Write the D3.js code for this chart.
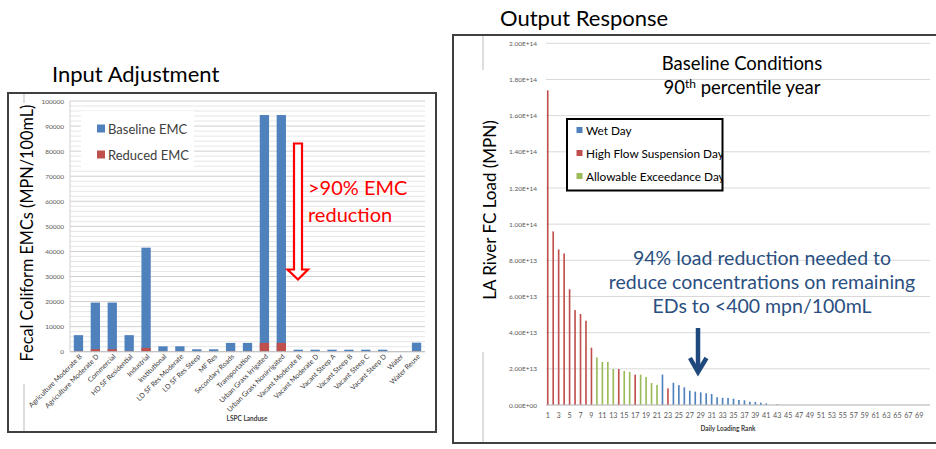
<!DOCTYPE html>
<html><head><meta charset="utf-8">
<script src="https://cdn.jsdelivr.net/npm/d3@7"></script>
<style>
html,body{margin:0;padding:0;background:#fff;}
svg{display:block;font-family:Lato,"Open Sans",sans-serif;}
</style></head>
<body>
<svg id="chart" width="936" height="449"></svg>
<script>
// ---------- Left chart data ----------
const landuses = ["Agriculture Moderate B","Agriculture Moderate D","Commercial","HD SF Residential","Industrial","Institutional","LD SF Res Moderate","LD SF Res Steep","MF Res","Secondary Roads","Transportation","Urban Grass Irrigated","Urban Grass Nonirrigated","Vacant Moderate B","Vacant Moderate D","Vacant Steep A","Vacant Steep B","Vacant Steep C","Vacant Steep D","Water","Water Reuse"];
const baselineEMC = [6600,19600,19600,6600,41500,2150,2150,960,960,3500,3500,94400,94400,800,800,800,800,800,800,0,3600];
const reducedEMC  = [300,1000,1000,300,1500,150,150,80,80,250,250,3500,3500,60,60,60,60,60,60,0,250];
const emcTicks = [0,10000,20000,30000,40000,50000,60000,70000,80000,90000,100000];

// ---------- Right chart data ----------
const ranks = d3.range(1,70);
const loads = [1.74e14,9.6e13,8.6e13,8.38e13,6.4e13,5.25e13,5.03e13,4.66e13,3.17e13,2.63e13,
  2.38e13,2.38e13,1.99e13,1.99e13,1.88e13,1.83e13,1.68e13,1.68e13,1.55e13,1.22e13,
  1.11e13,1.68e13,9.2e12,1.23e13,1.1e13,9.8e12,7.9e12,7.4e12,7.0e12,6.5e12,
  6.1e12,4.3e12,4.0e12,3.9e12,3.5e12,2.8e12,2.6e12,1.8e12,1.7e12,1.3e12,
  9e11,0,4e11,0,0,0,0,0,0,0,0,0,0,0,0,0,0,0,0,0,0,0,0,0,0,0,0,0,0];
const dayType = ["H","H","H","H","H","H","H","H","H","A","A","A","A","H","A","A","H","A","A","A",
  "A","W","H","W","W","W","W","W","W","W","W","W","W","W","W","W","W","W","W","W",
  "W","W","W","W","W","W","W","W","W","W","W","W","W","W","W","W","W","W","W","W",
  "W","W","W","W","W","W","W","W","W"];
const loadTicks = [0,2e13,4e13,6e13,8e13,1e14,1.2e14,1.4e14,1.6e14,1.8e14,2e14];
const legendItems = [["W","Wet Day"],["H","High Flow Suspension Day"],["A","Allowable Exceedance Day"]];
const annotationLines = ["94% load reduction needed to","reduce concentrations on remaining","EDs to <400 mpn/100mL"];

const blue = "#4f81bd", red = "#c0504d", green = "#9bbb59";
const typeColor = {W:blue, H:red, A:green};

const svg = d3.select("#chart");

// ================= LEFT CHART =================
svg.append("text").attr("x",52).attr("y",82).attr("font-size",22).attr("fill","#000").text("Input Adjustment");
svg.append("rect").attr("x",8).attr("y",93).attr("width",428).attr("height",339)
  .attr("fill","#fff").attr("stroke","#404040").attr("stroke-width",2);
svg.append("line").attr("x1",24).attr("x2",24).attr("y1",94).attr("y2",103).attr("stroke","#bbb");
svg.append("line").attr("x1",24).attr("x2",24).attr("y1",384).attr("y2",431).attr("stroke","#bbb");

const xL = d3.scaleBand().domain(landuses).range([70,425]).paddingInner(0.45).paddingOuter(0.225);
const yL = d3.scaleLinear().domain([0,100000]).range([351.7,101]);

const gL = svg.append("g");
gL.selectAll("line.minor").data(d3.range(0,100001,2000).filter(v=>v%10000!==0)).join("line")
  .attr("x1",70).attr("x2",425).attr("y1",d=>yL(d)).attr("y2",d=>yL(d))
  .attr("stroke","#e6e6e6").attr("stroke-width",1);
gL.selectAll("line.major").data(emcTicks).join("line")
  .attr("x1",70).attr("x2",425).attr("y1",d=>yL(d)).attr("y2",d=>yL(d))
  .attr("stroke","#cfcfcf").attr("stroke-width",1);
gL.append("line").attr("x1",70).attr("x2",70).attr("y1",101).attr("y2",351.7).attr("stroke","#d0d0d0");

const yAxisL = d3.axisLeft(yL).tickValues(emcTicks).tickSize(0).tickPadding(6).tickFormat(d3.format("d"));
gL.append("g").attr("transform","translate(70,0)").call(yAxisL)
  .call(g=>g.select(".domain").remove())
  .selectAll("text").attr("font-size",6.5).attr("fill","#595959").attr("font-family","Lato,sans-serif");

gL.selectAll("rect.base").data(landuses).join("rect")
  .attr("x",d=>xL(d)).attr("width",xL.bandwidth())
  .attr("y",(d,i)=>yL(baselineEMC[i])).attr("height",(d,i)=>yL(0)-yL(baselineEMC[i]))
  .attr("fill",blue);
gL.selectAll("rect.red").data(landuses).join("rect")
  .attr("x",d=>xL(d)).attr("width",xL.bandwidth())
  .attr("y",(d,i)=>yL(reducedEMC[i])).attr("height",(d,i)=>yL(0)-yL(reducedEMC[i]))
  .attr("fill",red);
gL.append("line").attr("x1",70).attr("x2",425).attr("y1",yL(0)).attr("y2",yL(0)).attr("stroke","#bfbfbf");

gL.selectAll("text.xl").data(landuses).join("text")
  .attr("transform",d=>`translate(${xL(d)+xL.bandwidth()/2+4},357) rotate(-45)`)
  .attr("text-anchor","end").attr("font-size",7).attr("fill","#404040").text(d=>d);
gL.append("text").attr("x",247).attr("y",421).attr("text-anchor","middle")
  .attr("font-size",6.5).attr("font-weight","bold").attr("fill","#404040").text("LSPC Landuse");

svg.append("text").attr("transform","translate(33,233) rotate(-90)").attr("text-anchor","middle")
  .attr("font-size",16.3).attr("fill","#000").text("Fecal Coliform EMCs (MPN/100mL)");

const lg = svg.append("g");
lg.append("rect").attr("x",81).attr("y",111).attr("width",113).attr("height",57).attr("fill","#fff");
[["Baseline EMC",blue,128.5],["Reduced EMC",red,154.5]].forEach(([t,c,y])=>{
  lg.append("rect").attr("x",97).attr("y",y-4).attr("width",8).attr("height",8).attr("fill",c);
  lg.append("text").attr("x",108).attr("y",y+5).attr("font-size",13).attr("fill","#404040").text(t);
});

const arrowPath = "M294,143.5 L302,143.5 L302,269.5 L308,269.5 L298,279.5 L287.5,269.5 L294,269.5 Z";
svg.append("path").attr("d",arrowPath).attr("fill","#fff").attr("stroke","#ff0000").attr("stroke-width",2.2);
svg.append("text").attr("x",308).attr("y",195).attr("font-size",20).attr("fill","#ff0000").text(">90% EMC");
svg.append("text").attr("x",308).attr("y",222).attr("font-size",20).attr("fill","#ff0000").text("reduction");

// ================= RIGHT CHART =================
svg.append("text").attr("x",500).attr("y",26).attr("font-size",22).attr("fill","#000").text("Output Response");
svg.append("rect").attr("x",453).attr("y",35).attr("width",490).attr("height",408)
  .attr("fill","#fff").attr("stroke","#404040").attr("stroke-width",2);
svg.append("line").attr("x1",483).attr("x2",483).attr("y1",36).attr("y2",70).attr("stroke","#bbb");
svg.append("line").attr("x1",483).attr("x2",483).attr("y1",352).attr("y2",442).attr("stroke","#bbb");

const xR = d3.scaleBand().domain(ranks).range([545,922]).paddingInner(0.7).paddingOuter(0.35);
const yR = d3.scaleLinear().domain([0,2e14]).range([405,43.3]);
const gR = svg.append("g");

gR.selectAll("line.grid").data(loadTicks).join("line")
  .attr("x1",546).attr("x2",930).attr("y1",d=>yR(d)).attr("y2",d=>yR(d))
  .attr("stroke","#d9d9d9").attr("stroke-width",1);

const sci = v => {
  const [m,e] = v.toExponential(2).toUpperCase().split("E");
  return m+"E"+e[0]+e.slice(1).padStart(2,"0");
};
gR.append("g").attr("transform","translate(546,0)")
  .call(d3.axisLeft(yR).tickValues(loadTicks).tickSize(0).tickPadding(9).tickFormat(sci))
  .call(g=>g.select(".domain").remove())
  .selectAll("text").attr("font-size",6.5).attr("fill","#595959").attr("font-family","Lato,sans-serif");

gR.selectAll("rect.bar").data(ranks).join("rect")
  .attr("x",d=>xR(d)).attr("width",xR.bandwidth())
  .attr("y",(d,i)=>yR(loads[i])).attr("height",(d,i)=>yR(0)-yR(loads[i]))
  .attr("fill",(d,i)=>typeColor[dayType[i]]);

gR.append("line").attr("x1",546).attr("x2",930).attr("y1",yR(0)).attr("y2",yR(0)).attr("stroke","#bfbfbf");

gR.append("g").attr("transform","translate(0,405)")
  .call(d3.axisBottom(xR).tickValues(ranks.filter(r=>r%2===1)).tickSize(0).tickPadding(8))
  .call(g=>g.select(".domain").remove())
  .selectAll("text").attr("font-size",7.2).attr("fill","#595959").attr("font-family","Lato,sans-serif");
gR.append("text").attr("x",728).attr("y",431).attr("text-anchor","middle")
  .attr("font-size",6.5).attr("font-weight","bold").attr("fill","#404040").text("Daily Loading Rank");

svg.append("text").attr("transform","translate(496,210) rotate(-90)").attr("text-anchor","middle")
  .attr("font-size",17).attr("fill","#000").text("LA River FC Load (MPN)");

const bc = svg.append("text").attr("x",742).attr("text-anchor","middle").attr("font-size",18.5).attr("fill","#000");
bc.append("tspan").attr("x",742).attr("y",70).text("Baseline Conditions");
const l2 = bc.append("tspan").attr("x",742).attr("y",94);
l2.append("tspan").text("90");
l2.append("tspan").attr("font-size",12).attr("dy",-6).text("th");
l2.append("tspan").attr("dy",6).text(" percentile year");

svg.append("defs").append("clipPath").attr("id","lgclip").append("rect")
  .attr("x",567).attr("y",119).attr("width",155).attr("height",71);
const lgR = svg.append("g");
lgR.append("rect").attr("x",567).attr("y",119).attr("width",155.5).attr("height",71.5)
  .attr("fill","#fff").attr("stroke","#000").attr("stroke-width",2);
const lgi = lgR.append("g").attr("clip-path","url(#lgclip)");
legendItems.forEach(([k,t],i)=>{
  const cy = 130 + i*23;
  lgi.append("rect").attr("x",576.5).attr("y",cy-3).attr("width",6).attr("height",6).attr("fill",typeColor[k]);
  lgi.append("text").attr("x",586).attr("y",cy+4.5).attr("font-size",11.8).attr("fill","#000").text(t);
});

annotationLines.forEach((t,i)=>{
  svg.append("text").attr("x",762).attr("y",265+i*24).attr("text-anchor","middle")
    .attr("font-size",19.5).attr("fill","#2a4f80").text(t);
});
svg.append("line").attr("x1",698).attr("x2",698).attr("y1",328).attr("y2",371).attr("stroke","#1f497d").attr("stroke-width",4.5);
svg.append("path").attr("d","M690,358 L698,372 L706.5,358").attr("fill","none").attr("stroke","#1f497d").attr("stroke-width",4.5).attr("stroke-linejoin","miter");
</script>
</body></html>
